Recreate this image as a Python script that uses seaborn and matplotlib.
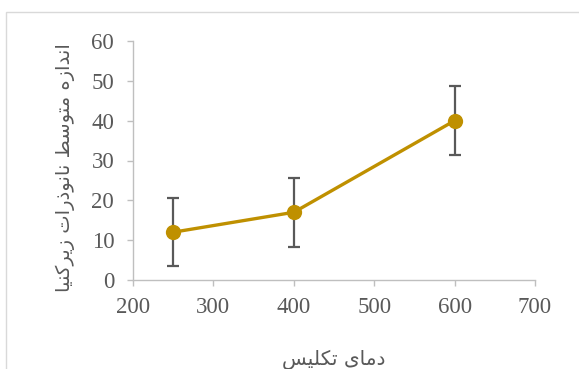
import matplotlib
matplotlib.use("Agg")
import matplotlib.pyplot as plt
import seaborn as sns
import pandas as pd
from matplotlib.patches import Rectangle

# Calcination temperature vs. mean zirconia nanoparticle size
temperature = [250, 400, 600]
mean_size = [12, 17, 40]
size_err = [8.6, 8.6, 8.6]

x_ticks = [200, 300, 400, 500, 600, 700]
y_ticks = [0, 10, 20, 30, 40, 50, 60]

x_label = "دمای تکلیس"
y_label = "اندازه متوسط نانوذرات زیرکنیا"

# Contextual forms (isolated, final, initial, medial) for the letters used
FORMS = {
    "ا": ("\uFE8D", "\uFE8E", None, None),
    "د": ("\uFEA9", "\uFEAA", None, None),
    "ذ": ("\uFEAB", "\uFEAC", None, None),
    "ر": ("\uFEAD", "\uFEAE", None, None),
    "ز": ("\uFEAF", "\uFEB0", None, None),
    "و": ("\uFEED", "\uFEEE", None, None),
    "ت": ("\uFE95", "\uFE96", "\uFE97", "\uFE98"),
    "س": ("\uFEB1", "\uFEB2", "\uFEB3", "\uFEB4"),
    "ط": ("\uFEC1", "\uFEC2", "\uFEC3", "\uFEC4"),
    "ل": ("\uFEDD", "\uFEDE", "\uFEDF", "\uFEE0"),
    "م": ("\uFEE1", "\uFEE2", "\uFEE3", "\uFEE4"),
    "ن": ("\uFEE5", "\uFEE6", "\uFEE7", "\uFEE8"),
    "ه": ("\uFEE9", "\uFEEA", "\uFEEB", "\uFEEC"),
    "ی": ("\uFBFC", "\uFBFD", "\uFBFE", "\uFBFF"),
    "ک": ("\uFB8E", "\uFB8F", "\uFB90", "\uFB91"),
}


def shape_rtl(text):
    """Join Persian letters into their contextual forms, then reverse for LTR drawing."""
    out = []
    n = len(text)
    for i, ch in enumerate(text):
        if ch not in FORMS:
            out.append(ch)
            continue
        prev = text[i - 1] if i > 0 else None
        nxt = text[i + 1] if i < n - 1 else None
        joins_prev = prev in FORMS and FORMS[prev][2] is not None
        joins_next = nxt in FORMS and FORMS[ch][2] is not None
        iso, fin, ini, med = FORMS[ch]
        if joins_prev and joins_next:
            out.append(med)
        elif joins_prev:
            out.append(fin)
        elif joins_next:
            out.append(ini)
        else:
            out.append(iso)
    return "".join(reversed(out))


sns.set_theme(style="white")
plt.rcParams["font.family"] = ["Liberation Serif", "DejaVu Sans"]

df = pd.DataFrame({"temperature": temperature, "size": mean_size, "err": size_err})

W, H = 579, 369
fig = plt.figure(figsize=(W / 100, H / 100), dpi=100)
ax = fig.add_axes([133 / W, 1 - 280 / H, (535 - 133) / W, (280 - 41) / H])

# chart-area border
fig.patches.append(Rectangle((6 / W, -0.05), 1.2, 1 - 12 / H + 0.05,
                             transform=fig.transFigure, fill=False,
                             edgecolor="#d9d9d9", linewidth=1.0))

ax.errorbar(df["temperature"], df["size"], yerr=df["err"], fmt="none",
            ecolor="#595959", elinewidth=1.6, capsize=4.5, capthick=1.6, zorder=2)
sns.lineplot(data=df, x="temperature", y="size", ax=ax, color="#BF9000",
             linewidth=2.4, marker="o", markersize=11, markeredgewidth=0,
             zorder=3)

ax.set_xlim(200, 700)
ax.set_ylim(0, 60)
ax.set_xticks(x_ticks)
ax.set_yticks(y_ticks)

for side in ("top", "right"):
    ax.spines[side].set_visible(False)
for side in ("left", "bottom"):
    ax.spines[side].set_color("#bfbfbf")
    ax.spines[side].set_linewidth(1.0)

ax.tick_params(axis="both", which="major", direction="out", length=4.5,
               width=1.0, color="#bfbfbf", labelcolor="#595959", labelsize=16.5,
               left=True, bottom=True)
ax.tick_params(axis="x", pad=8)
ax.tick_params(axis="y", pad=9)

ax.set_xlabel(shape_rtl(x_label), family="DejaVu Sans", fontsize=14.5,
              color="#595959")
ax.set_ylabel(shape_rtl(y_label), family="DejaVu Sans", fontsize=14,
              color="#595959")
ax.xaxis.set_label_coords(0.5, -(359 - 280) / 239, transform=ax.transAxes)
ax.yaxis.set_label_coords(-(133 - 65) / 402, (280 - 168) / 239, transform=ax.transAxes)
ax.xaxis.label.set_va("center")
ax.yaxis.label.set_va("center")

fig.savefig("out.png", dpi=100)
